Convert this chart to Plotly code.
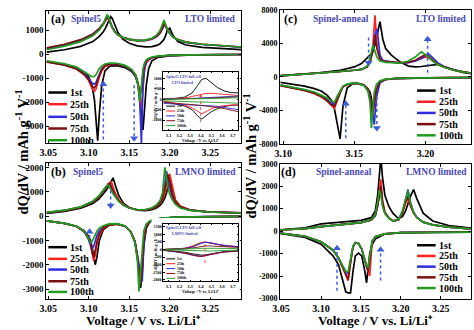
import plotly.graph_objects as go

SERIF = "Liberation Serif, Times New Roman, serif"
W, H = 474, 330

CYCLES = ["1st", "25th", "50th", "75th", "100th"]
CYCLE_COLORS = ["#000000", "#ff2020", "#2e2ee0", "#7a1010", "#1f9c1f"]
TAG_BLUE = "#4a4ab4"
ARROW_BLUE = "#3b5bdb"

# ---------------- (a) Spinel5, LTO limited ----------------
A_CHG_V = [3.048, 3.07, 3.09, 3.105, 3.113, 3.118, 3.121, 3.123, 3.125, 3.127, 3.129,
           3.132, 3.136, 3.142, 3.15, 3.16, 3.17, 3.178, 3.184, 3.188, 3.191, 3.193,
           3.195, 3.197, 3.200, 3.204, 3.21, 3.22, 3.24, 3.265, 3.29]
A_CHG_Q = [
    [80, 180, 320, 520, 740, 930, 1100, 1250, 1420, 1560, 1480, 1200, 900, 620, 450, 340,
     300, 310, 360, 430, 520, 620, 780, 980, 1080, 780, 520, 380, 280, 220, 180],
    [220, 370, 560, 800, 1030, 1230, 1400, 1500, 1420, 1250, 1100, 930, 790, 680, 600, 550,
     560, 620, 730, 860, 1020, 1180, 1220, 1050, 880, 720, 600, 500, 410, 340, 290],
    [240, 390, 580, 820, 1050, 1260, 1450, 1560, 1450, 1270, 1110, 940, 800, 690, 610, 560,
     570, 630, 740, 880, 1050, 1200, 1150, 1000, 860, 710, 590, 490, 400, 330, 280],
    [260, 410, 600, 840, 1070, 1280, 1480, 1600, 1470, 1280, 1120, 950, 810, 700, 620, 570,
     580, 640, 760, 900, 1080, 1280, 1180, 1020, 870, 720, 600, 500, 410, 340, 290],
    [180, 330, 520, 760, 1000, 1250, 1520, 1650, 1450, 1250, 1090, 930, 800, 690, 610, 560,
     580, 660, 800, 980, 1250, 1420, 1200, 1020, 870, 720, 600, 500, 410, 340, 290],
]
A_DIS_V = [3.048, 3.07, 3.085, 3.095, 3.1, 3.104, 3.107, 3.109, 3.111, 3.113, 3.116, 3.12,
           3.126, 3.135, 3.145, 3.153, 3.158, 3.161, 3.163, 3.165, 3.167, 3.169, 3.171,
           3.174, 3.178, 3.185, 3.2, 3.23, 3.26, 3.29]
A_DIS_Q = [
    [-300, -420, -560, -760, -950, -1300, -1900, -2800, -3600, -2500, -1300, -700, -500, -480,
     -560, -720, -950, -1300, -1800, -2500, -3150, -2300, -1300, -600, -280, -140, -70, -35, -20, -15],
    [-320, -450, -620, -880, -1100, -1420, -1550, -1450, -1200, -950, -700, -520, -430, -420,
     -500, -660, -870, -1200, -1700, -2250, -1400, -650, -380, -240, -160, -100, -55, -30, -20, -15],
    [-310, -440, -600, -830, -1020, -1200, -1250, -1180, -1000, -820, -620, -470, -400, -410,
     -500, -680, -920, -1300, -2000, -3700, -1300, -550, -330, -220, -150, -100, -55, -30, -20, -15],
    [-320, -460, -620, -860, -1080, -1330, -1400, -1300, -1080, -870, -650, -480, -410, -410,
     -500, -670, -900, -1250, -1750, -1450, -750, -420, -280, -200, -140, -95, -55, -30, -20, -15],
    [-280, -400, -540, -730, -860, -940, -930, -850, -720, -600, -500, -410, -370, -380,
     -470, -640, -880, -1300, -2000, -1300, -600, -350, -240, -170, -120, -85, -50, -30, -20, -15],
]

# ---------------- (b) Spinel5, LMNO limited ----------------
B_CHG_V = [3.048, 3.07, 3.09, 3.105, 3.113, 3.118, 3.122, 3.124, 3.126, 3.128, 3.130, 3.133,
           3.137, 3.143, 3.15, 3.16, 3.17, 3.178, 3.184, 3.188, 3.191, 3.194, 3.196, 3.198,
           3.200, 3.203, 3.207, 3.213, 3.225, 3.245, 3.265, 3.29]
B_CHG_Q = [
    [110, 190, 320, 520, 720, 900, 1080, 1200, 1340, 1480, 1570, 1250, 850, 520, 350, 240,
     220, 260, 340, 440, 560, 750, 950, 1250, 1600, 1150, 650, 400, 250, 170, 140, 120],
    [140, 220, 360, 580, 800, 1000, 1200, 1300, 1380, 1400, 1200, 920, 680, 470, 340, 260,
     250, 300, 400, 520, 680, 950, 1250, 1650, 1730, 1200, 650, 400, 250, 180, 150, 130],
    [140, 230, 370, 600, 830, 1030, 1220, 1300, 1280, 1150, 1000, 800, 620, 440, 330, 260,
     260, 320, 430, 570, 780, 1300, 1850, 1500, 1150, 800, 540, 360, 240, 180, 150, 130],
    [140, 225, 365, 590, 815, 1020, 1230, 1320, 1350, 1200, 1030, 820, 630, 450, 335, 260,
     255, 310, 420, 550, 740, 1150, 1550, 1700, 1350, 900, 580, 380, 245, 180, 150, 130],
    [150, 240, 380, 610, 850, 1060, 1240, 1270, 1180, 1050, 920, 760, 600, 440, 330, 260,
     270, 340, 470, 640, 950, 2000, 1500, 1150, 900, 680, 480, 330, 230, 170, 145, 125],
]
B_DIS_V = [3.048, 3.07, 3.085, 3.094, 3.099, 3.102, 3.104, 3.106, 3.108, 3.110, 3.113, 3.118,
           3.125, 3.135, 3.145, 3.152, 3.157, 3.160, 3.162, 3.164, 3.166, 3.168, 3.171, 3.175,
           3.18, 3.19, 3.21, 3.24, 3.265, 3.29]
B_DIS_Q = [
    [-200, -300, -420, -600, -800, -1000, -1250, -1600, -2000, -1700, -1000, -560, -380, -330,
     -420, -650, -1050, -1700, -2300, -2950, -2300, -1200, -500, -260, -160, -90, -45, -20, -15, -10],
    [-200, -300, -430, -620, -850, -1100, -1400, -1850, -1600, -1200, -800, -500, -360, -330,
     -420, -650, -1050, -1600, -2200, -2600, -1900, -900, -420, -230, -150, -90, -45, -20, -15, -10],
    [-200, -300, -430, -640, -900, -1150, -1350, -1250, -1000, -800, -600, -440, -340, -320,
     -420, -660, -1050, -1600, -2100, -2500, -2700, -1200, -450, -240, -150, -90, -45, -20, -15, -10],
    [-200, -300, -430, -630, -880, -1150, -1500, -1700, -1400, -1050, -720, -480, -350, -325,
     -420, -655, -1050, -1650, -2300, -2800, -2100, -1000, -430, -235, -150, -90, -45, -20, -15, -10],
    [-200, -300, -420, -620, -900, -1100, -1050, -900, -750, -620, -500, -400, -320, -310,
     -410, -660, -1100, -1800, -3100, -2200, -1200, -600, -330, -210, -140, -85, -45, -20, -15, -10],
]

# ---------------- (c) Spinel-anneal, LTO limited ----------------
C_CHG_V = [3.098, 3.11, 3.125, 3.14, 3.15, 3.155, 3.159, 3.161, 3.163, 3.1645, 3.166, 3.168,
           3.170, 3.172, 3.176, 3.182, 3.188, 3.193, 3.197, 3.2, 3.202, 3.205, 3.2085, 3.213,
           3.22, 3.226, 3.232]
C_CHG_Q = [
    [150, 300, 500, 800, 1200, 1600, 2200, 2600, 3100, 3800, 5000, 6600, 4500, 3400, 2600,
     1800, 1300, 1200, 1250, 1300, 1350, 1420, 1500, 1200, 800, 550, 400],
    [120, 250, 450, 650, 800, 900, 1200, 1800, 3500, 7350, 3500, 2200, 1900, 1850, 1800,
     1700, 1750, 1950, 2200, 2400, 2300, 1900, 1500, 1200, 800, 600, 450],
    [120, 250, 450, 650, 800, 900, 1200, 1800, 3200, 5000, 5750, 2600, 2000, 1900, 1800,
     1650, 1700, 1900, 2200, 2600, 2800, 2300, 1700, 1250, 850, 620, 460],
    [120, 250, 450, 650, 800, 900, 1200, 1800, 3000, 5000, 3300, 2100, 1900, 1850, 1750,
     1650, 1750, 2000, 2400, 2650, 2500, 2000, 1550, 1200, 820, 610, 450],
    [120, 250, 450, 650, 800, 900, 1300, 2200, 3800, 3000, 2300, 1900, 1800, 1750, 1700,
     1650, 1900, 2400, 3000, 2700, 2400, 1900, 1500, 1150, 800, 600, 440],
]
C_DIS_V = [3.098, 3.105, 3.115, 3.122, 3.127, 3.131, 3.134, 3.136, 3.138, 3.140, 3.142, 3.145,
           3.149, 3.153, 3.157, 3.1595, 3.161, 3.162, 3.163, 3.164, 3.1655, 3.168, 3.172, 3.18,
           3.195, 3.215, 3.232]
C_DIS_Q = [
    [-650, -800, -1100, -1400, -1700, -2200, -2800, -3800, -5500, -7400, -3500, -1300, -800,
     -800, -1000, -1400, -1800, -2500, -4300, -2800, -1500, -600, -300, -200, -130, -100, -90],
    [-1000, -1250, -1600, -2000, -2400, -2900, -3400, -3750, -2800, -1800, -1200, -900, -750,
     -780, -1000, -1500, -2200, -3200, -4700, -3000, -1500, -500, -280, -180, -120, -90, -80],
    [-1000, -1200, -1550, -1900, -2250, -2700, -3100, -3300, -2600, -1700, -1150, -880, -750,
     -780, -1000, -1500, -2200, -3200, -4500, -5700, -2500, -700, -300, -180, -120, -90, -80],
    [-1050, -1250, -1600, -1950, -2350, -2850, -3350, -3500, -2700, -1750, -1150, -880, -750,
     -780, -1000, -1500, -2300, -3500, -4500, -3200, -1500, -550, -290, -180, -120, -90, -80],
    [-950, -1150, -1500, -1800, -2150, -2500, -2900, -3000, -2300, -1600, -1100, -850, -740,
     -780, -1050, -1700, -3000, -6100, -3500, -1800, -900, -450, -270, -170, -120, -90, -80],
]

# ---------------- (d) Spinel-anneal, LMNO limited ----------------
D_CHG_V = [3.048, 3.08, 3.10, 3.13, 3.15, 3.163, 3.168, 3.171, 3.173, 3.175, 3.177, 3.18,
           3.185, 3.19, 3.197, 3.202, 3.206, 3.209, 3.212, 3.216, 3.22, 3.228, 3.24, 3.26, 3.288]
D_CHG_Q = [
    [60, 150, 320, 430, 480, 600, 900, 1600, 2400, 3300, 2400, 1600, 1100, 800, 560, 650,
     900, 1200, 1550, 1850, 1450, 800, 450, 250, 130],
    [50, 110, 200, 300, 380, 500, 700, 1200, 1900, 2300, 1400, 850, 600, 460, 500, 800,
     1250, 1450, 1100, 800, 600, 400, 280, 180, 100],
    [50, 110, 200, 300, 380, 500, 680, 1100, 1600, 1800, 1200, 800, 580, 450, 500, 850,
     1400, 1850, 1300, 850, 620, 400, 280, 180, 100],
    [50, 110, 200, 300, 380, 500, 700, 1150, 1700, 2000, 1300, 820, 590, 455, 500, 820,
     1300, 1550, 1200, 820, 610, 400, 280, 180, 100],
    [50, 110, 200, 300, 380, 520, 750, 1300, 1830, 1600, 1100, 780, 570, 450, 520, 900,
     1450, 1800, 1250, 830, 610, 400, 280, 180, 100],
]
D_DIS_V = [3.048, 3.08, 3.10, 3.115, 3.122, 3.128, 3.131, 3.134, 3.137, 3.140, 3.143, 3.147,
           3.151, 3.155, 3.157, 3.159, 3.161, 3.164, 3.168, 3.18, 3.2, 3.24, 3.288]
D_DIS_Q = [
    [-100, -280, -580, -1100, -1500, -2300, -2700, -2750, -2750, -1800, -1100, -980, -1100,
     -1800, -2300, -1700, -1000, -600, -350, -130, -70, -50, -40],
    [-90, -230, -470, -850, -1200, -1700, -2000, -2200, -1400, -700, -520, -550, -800,
     -1300, -1600, -1800, -2000, -500, -250, -120, -70, -50, -40],
    [-90, -230, -470, -850, -1200, -1600, -1800, -1900, -1300, -700, -520, -550, -800,
     -1300, -1600, -1700, -1200, -450, -250, -120, -70, -50, -40],
    [-90, -230, -470, -850, -1200, -1700, -1950, -2150, -1400, -700, -520, -550, -800,
     -1300, -1650, -1800, -1300, -480, -250, -120, -70, -50, -40],
    [-90, -230, -470, -850, -1200, -1650, -1800, -1800, -1300, -680, -510, -540, -790,
     -1300, -1550, -1600, -1100, -450, -250, -120, -70, -50, -40],
]

# ---------------- full-cell insets ----------------
INSET_V = [3.05, 3.15, 3.25, 3.32, 3.37, 3.41, 3.45, 3.5, 3.56, 3.62, 3.68, 3.75]
IA_CHG_Q = [
    [0, 30, 100, 300, 650, 950, 1000, 800, 550, 400, 320, 300],
    [0, 20, 60, 130, 200, 250, 280, 280, 250, 220, 200, 180],
    [0, 5, 15, 30, 45, 60, 70, 80, 90, 110, 130, 150],
    [0, 5, 10, 20, 30, 40, 50, 60, 70, 80, 100, 110],
    [0, 0, 5, 10, 15, 20, 25, 30, 40, 50, 60, 70],
]
IA_DIS_Q = [
    [-100, -200, -330, -500, -800, -950, -800, -600, -450, -350, -300, -280],
    [-100, -180, -280, -420, -600, -700, -600, -450, -350, -300, -280, -270],
    [-200, -220, -250, -280, -300, -300, -300, -320, -350, -400, -450, -500],
    [-150, -180, -220, -250, -280, -300, -320, -350, -400, -450, -520, -600],
    [-80, -90, -100, -110, -120, -130, -140, -150, -160, -170, -180, -190],
]
IB_CHG_Q = [
    [0, 20, 80, 200, 350, 450, 480, 430, 330, 250, 200, 180],
    [0, 20, 80, 220, 380, 480, 500, 450, 340, 260, 210, 190],
    [0, 15, 60, 160, 300, 420, 470, 440, 350, 270, 220, 200],
    [0, 10, 40, 100, 170, 220, 240, 230, 200, 170, 150, 140],
    [0, 5, 20, 40, 60, 80, 90, 90, 80, 70, 60, 60],
]
IB_DIS_Q = [
    [-50, -100, -180, -280, -350, -380, -350, -280, -200, -150, -120, -100],
    [-50, -120, -250, -380, -450, -460, -400, -300, -220, -160, -130, -110],
    [-50, -120, -240, -370, -440, -450, -390, -300, -220, -160, -130, -110],
    [-50, -110, -230, -360, -430, -440, -380, -290, -210, -160, -130, -110],
    [-20, -40, -70, -100, -120, -130, -120, -100, -80, -60, -50, -40],
]

# ---------------- ticks ----------------
X_TICKS_WIDE = [3.05, 3.10, 3.15, 3.20, 3.25]
X_TICKS_NARROW = [3.10, 3.15, 3.20]
A_Y_TICKS = [-3000, -2000, -1000, 0, 1000]
B_Y_TICKS = [-3000, -2000, -1000, 0, 1000, 2000]
C_Y_TICKS = [-8000, -4000, 0, 4000, 8000]
D_Y_TICKS = [-3000, -2000, -1000, 0, 1000, 2000, 3000]
INSET_X_TICKS = [3.1, 3.2, 3.3, 3.4, 3.5, 3.6, 3.7]
IA_Y_TICKS = [-1000, -500, 0, 500, 1000]
IB_Y_TICKS = [-2000, -1500, -1000, -500, 0, 500, 1000, 1500]


def px(x):
    return x / W


def py(y):
    return 1 - y / H


def axis(domain, anchor, rng, ticks, fmt, size, lw=1.3, tl=3):
    return dict(domain=domain, anchor=anchor, range=rng, tickmode="array",
                tickvals=ticks, ticktext=[fmt.format(t) for t in ticks],
                showline=True, mirror="ticks", linecolor="black", linewidth=lw,
                ticks="inside", ticklen=tl, tickwidth=1, tickcolor="black",
                showgrid=False, zeroline=False, ticklabelstandoff=0,
                tickfont=dict(family=SERIF, size=size, color="black", weight="bold"))


fig = go.Figure()

main_panels = [
    ("x", "y", A_CHG_V, A_CHG_Q, A_DIS_V, A_DIS_Q),
    ("x2", "y2", B_CHG_V, B_CHG_Q, B_DIS_V, B_DIS_Q),
    ("x3", "y3", C_CHG_V, C_CHG_Q, C_DIS_V, C_DIS_Q),
    ("x4", "y4", D_CHG_V, D_CHG_Q, D_DIS_V, D_DIS_Q),
]
for xa, ya, cv, cq, dv, dq in main_panels:
    for i, name in enumerate(CYCLES):
        for vv, qq in ((cv, cq[i]), (dv, dq[i])):
            fig.add_trace(go.Scatter(x=vv, y=qq, xaxis=xa, yaxis=ya, mode="lines", name=name,
                                     line=dict(color=CYCLE_COLORS[i], width=1.7),
                                     showlegend=False, hoverinfo="skip"))

# blank white cards behind the insets (x5/y5 and x6/y6)
for xa, ya in (("x5", "y5"), ("x6", "y6")):
    fig.add_trace(go.Scatter(x=[0.5], y=[0.5], xaxis=xa, yaxis=ya, mode="markers",
                             marker=dict(opacity=0), showlegend=False, hoverinfo="skip"))

inset_panels = [("x7", "y7", IA_CHG_Q, IA_DIS_Q), ("x8", "y8", IB_CHG_Q, IB_DIS_Q)]
for xa, ya, cq, dq in inset_panels:
    for i, name in enumerate(CYCLES):
        for qq in (cq[i], dq[i]):
            fig.add_trace(go.Scatter(x=INSET_V, y=qq, xaxis=xa, yaxis=ya, mode="lines",
                                     line=dict(color=CYCLE_COLORS[i], width=0.9),
                                     showlegend=False, hoverinfo="skip"))

left_x = [px(39), px(237)]
right_x = [px(277), px(471)]
hidden = dict(visible=False, showgrid=False, zeroline=False, range=[0, 1], fixedrange=True)

fig.update_layout(
    width=W, height=H, margin=dict(l=0, r=0, t=0, b=0),
    paper_bgcolor="white", plot_bgcolor="white", showlegend=False,
    xaxis=axis(left_x, "y", [3.0476, 3.288], X_TICKS_WIDE, "{:.2f}", 10),
    yaxis=axis([py(143), py(7)], "x", [-3700, 1800], A_Y_TICKS, "{:d}", 9),
    xaxis2=axis(left_x, "y2", [3.0476, 3.288], X_TICKS_WIDE, "{:.2f}", 10),
    yaxis2=axis([py(303), py(163)], "x2", [-3400, 2200], B_Y_TICKS, "{:d}", 9),
    xaxis3=axis(right_x, "y3", [3.098, 3.232], X_TICKS_NARROW, "{:.2f}", 10),
    yaxis3=axis([py(144), py(6)], "x3", [-8010, 8010], C_Y_TICKS, "{:d}", 8),
    xaxis4=axis(right_x, "y4", [3.049, 3.288], X_TICKS_WIDE, "{:.2f}", 10),
    yaxis4=axis([py(303), py(164)], "x4", [-3010, 3010], D_Y_TICKS, "{:d}", 8),
    xaxis5=dict(hidden, domain=[px(146), px(235.8)], anchor="y5"),
    yaxis5=dict(hidden, domain=[py(141.8), py(62)], anchor="x5"),
    xaxis6=dict(hidden, domain=[px(146), px(235.8)], anchor="y6"),
    yaxis6=dict(hidden, domain=[py(301.8), py(220)], anchor="x6"),
    xaxis7=axis([px(158), px(234)], "y7", [3.05, 3.75], INSET_X_TICKS, "{:.1f}", 4.5, 0.8, 1.5),
    yaxis7=axis([py(130), py(70)], "x7", [-1500, 1300], IA_Y_TICKS, "{:d}", 4, 0.8, 1.5),
    xaxis8=axis([px(158), px(234)], "y8", [3.05, 3.75], INSET_X_TICKS, "{:.1f}", 4.5, 0.8, 1.5),
    yaxis8=axis([py(285), py(226)], "x8", [-2100, 1700], IB_Y_TICKS, "{:d}", 4, 0.8, 1.5),
)


def label(x, y, s, size, color="black", xanchor="center", angle=0, yanchor="middle"):
    return dict(xref="paper", yref="paper", x=px(x), y=py(y), text=s, showarrow=False,
                xanchor=xanchor, yanchor=yanchor, textangle=angle, borderpad=0,
                font=dict(family=SERIF, size=size, color=color, weight="bold"))


V_TITLE = "Voltage / V vs. Li/Li\u207a"
notes = [
    label(51, 15, "(a)", 12), label(79, 15, "Spinel5", 9.5, TAG_BLUE),
    label(233, 15, "LTO limited", 9.5, TAG_BLUE, "right"),
    label(51, 173, "(b)", 12), label(81, 173, "Spinel5", 9.5, TAG_BLUE),
    label(233, 173, "LMNO limited", 9.5, TAG_BLUE, "right"),
    label(287, 15, "(c)", 12), label(339, 15, "Spinel-anneal", 9.5, TAG_BLUE),
    label(468, 15, "LTO limited", 9.5, TAG_BLUE, "right"),
    label(285, 173, "(d)", 12), label(342, 173, "Spinel-anneal", 9.5, TAG_BLUE),
    label(468, 173, "LMNO limited", 9.5, TAG_BLUE, "right"),
    label(138, 325, V_TITLE, 13),
    label(374, 325, V_TITLE, 13),
    label(14, 152, "dQ/dV / mAh g<sup>-1</sup> V<sup>-1</sup>", 14.5, angle=-90),
    label(246, 156, "dQ/dV / mAh g<sup>-1</sup> V<sup>-1</sup>", 14.5, angle=-90),
    # inset captions
    label(160, 75, "Spinel5 LTO full cell", 4, TAG_BLUE, "left"),
    label(166, 81, "LTO limited", 4, TAG_BLUE, "left"),
    label(196, 140, V_TITLE, 4.2),
    label(150, 100, "dQ/dV / mAh g<sup>-1</sup> V<sup>-1</sup>", 4, angle=-90),
    label(160, 230, "Spinel5 LTO full cell", 4, TAG_BLUE, "left"),
    label(166, 236, "LMNO limited", 4, TAG_BLUE, "left"),
    label(196, 296, V_TITLE, 4.2),
    label(150, 256, "dQ/dV / mAh g<sup>-1</sup> V<sup>-1</sup>", 4, angle=-90),
]
shapes = []

# cycle keys drawn inside each panel: (line x0, line x1, text x, row y's, size, width)
keys = [
    (41, 60, 62, [91, 103, 116, 128, 140], 10, 2.5),
    (41, 60, 62, [250, 262, 273, 285, 296], 10, 2.5),
    (416, 435, 437, [89, 100.5, 112, 123.5, 135], 10, 2.5),
    (416, 435, 437, [248, 259, 270, 281, 292], 10, 2.5),
    (161, 170, 171, [105, 110, 115, 120, 125], 3.8, 1),
    (161, 170, 171, [262, 267, 272, 277, 282], 3.8, 1),
]
for x0, x1, tx, rows, size, lw in keys:
    for i, name in enumerate(CYCLES):
        shapes.append(dict(type="line", xref="paper", yref="paper", x0=px(x0), x1=px(x1),
                           y0=py(rows[i]), y1=py(rows[i]),
                           line=dict(color=CYCLE_COLORS[i], width=lw)))
        notes.append(label(tx, rows[i], name, size, "black", "left"))

# dotted trend arrows: (x axis, y axis, voltage, tail, head, colour, width, head size)
arrows = [
    ("x", "y", 3.118, -3550, -1250, ARROW_BLUE, 1.5, 7),
    ("x", "y", 3.156, -1300, -3500, ARROW_BLUE, 1.5, 7),
    ("x2", "y2", 3.101, -1150, -650, ARROW_BLUE, 1.5, 7),
    ("x2", "y2", 3.127, 1050, 430, ARROW_BLUE, 1.5, 7),
    ("x3", "y3", 3.160, 4700, 1700, ARROW_BLUE, 1.5, 7),
    ("x3", "y3", 3.2015, 500, 4500, ARROW_BLUE, 1.5, 7),
    ("x3", "y3", 3.144, -7300, -3200, ARROW_BLUE, 1.5, 7),
    ("x3", "y3", 3.1658, -2400, -6100, ARROW_BLUE, 1.5, 7),
    ("x4", "y4", 3.120, -2650, -760, ARROW_BLUE, 1.5, 7),
    ("x4", "y4", 3.1746, -2200, -830, ARROW_BLUE, 1.5, 7),
    ("x7", "y7", 3.40, -1100, 150, "#e03030", 0.8, 3),
    ("x8", "y8", 3.44, -900, 250, "#e03030", 0.8, 3),
]
for xa, ya, v, tail, head, col, lw, hs in arrows:
    shapes.append(dict(type="line", xref=xa, yref=ya, x0=v, x1=v, y0=tail, y1=head,
                       line=dict(color=col, width=lw, dash="dot")))
    fig.add_trace(go.Scatter(x=[v], y=[head], xaxis=xa, yaxis=ya, mode="markers",
                             marker=dict(symbol="triangle-up" if head > tail else "triangle-down",
                                         size=hs, color=col, line=dict(width=0)),
                             showlegend=False, hoverinfo="skip", cliponaxis=False))

fig.update_layout(annotations=notes, shapes=shapes)
fig.write_html("out.html")
